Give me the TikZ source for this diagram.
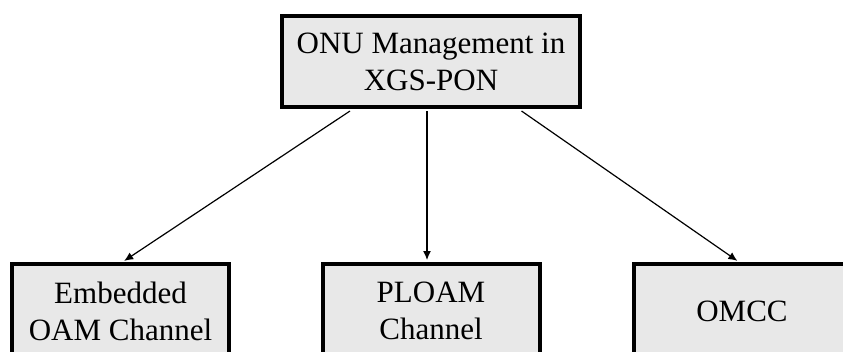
\documentclass[tikz,border=0pt]{standalone}
\usepackage{fontspec}
\setmainfont{Liberation Serif}
\usetikzlibrary{arrows.meta}
\definecolor{boxfill}{RGB}{232,232,232}
\tikzset{
  box/.style={draw=black, line width=4pt, fill=boxfill, rectangle,
    align=center, inner sep=0pt, font=\fontsize{31}{37}\selectfont},
  topbox/.style={box, minimum width=298pt, minimum height=91pt},
  childbox/.style={box, minimum width=217pt, minimum height=94pt},
  conn/.style={draw=black, line width=1.2pt, -{Latex[length=9pt,width=8pt]}, shorten >=2pt}
}
\begin{document}
\begin{tikzpicture}[x=1pt,y=-1pt]
  \useasboundingbox (0,0) rectangle (843,351);
  \clip (0,0) rectangle (843,351);
  \node[topbox] (top) at (431,61.5) {ONU Management in\\XGS-PON};
  \node[childbox] (emb) at (120.5,311) {Embedded\\OAM Channel};
  \node[childbox] (ploam) at (431,311) {PLOAM\\Channel};
  \node[childbox] (omcc) at (742,311) {OMCC};
  \coordinate (s1) at ([xshift=-81pt,yshift=-2pt]top.south);
  \coordinate (s2) at ([xshift=-4pt,yshift=-2pt]top.south);
  \coordinate (s3) at ([xshift=90.5pt,yshift=-2pt]top.south);
  \draw[conn] (s1) -- ([xshift=2pt]emb.north);
  \draw[conn] (s2) -- ([xshift=-4pt]ploam.north);
  \draw[conn] (s3) -- ([xshift=-3pt]omcc.north);
\end{tikzpicture}
\end{document}
